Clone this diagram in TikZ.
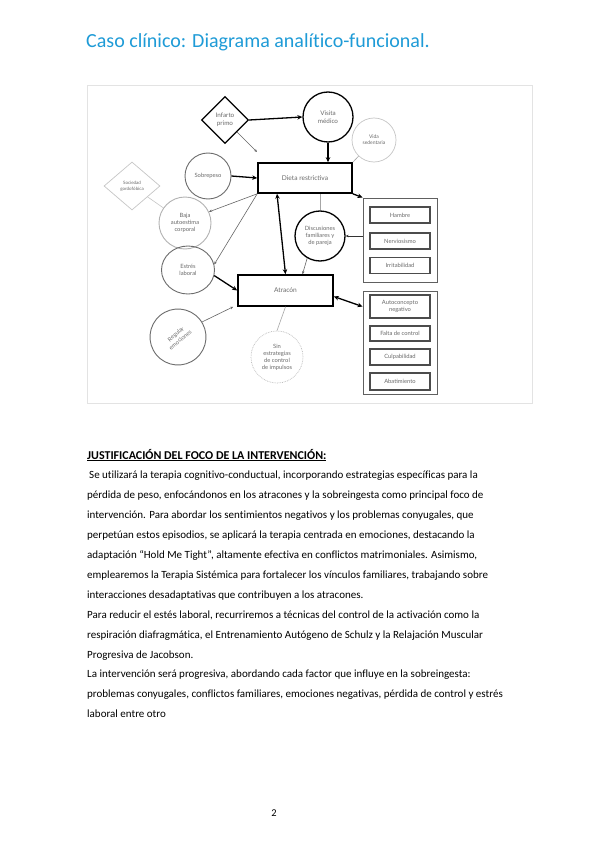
\documentclass[tikz,border=0pt]{standalone}
\usepackage{fontspec}
\setmainfont{Carlito}[Ligatures=NoCommon]
\newfontfamily\diagfont{Lato}
\usetikzlibrary{shapes.geometric,arrows.meta}
\definecolor{titlecyan}{HTML}{1E9BD7}
\definecolor{dtext}{HTML}{6A6A6A}
\begin{document}
\begin{tikzpicture}[x=1pt,y=-1pt,
  base/.style={inner sep=0pt,align=center,text=dtext,font=\diagfont\fontsize{5.8}{7}\selectfont},
  blackc/.style={base,circle,draw=black,line width=1.3pt,minimum size=50pt},
  grayc/.style={base,circle,draw=gray!85!black,line width=0.9pt,minimum size=50pt},
  lightc/.style={base,circle,draw=gray!45,line width=0.7pt,minimum size=44pt},
  mainbox/.style={base,rectangle,draw=black,line width=1.6pt,font=\diagfont\fontsize{6.6}{8}\selectfont},
  groupbox/.style={rectangle,draw=gray!75!black,line width=0.9pt},
  itembox/.style={base,rectangle,draw=gray!60!black,line width=1.1pt,minimum width=60pt},
  thickarr/.style={line width=1.3pt,-{Stealth[length=5pt,width=4.5pt]}},
  dblarr/.style={line width=1.3pt,{Stealth[length=5pt,width=4.5pt]}-{Stealth[length=5pt,width=4.5pt]}},
  thinarr/.style={draw=gray!80!black,line width=0.6pt,-{Stealth[length=3pt,width=2.6pt]}},
  thinline/.style={draw=gray!70,line width=0.6pt},
  bodyline/.style={anchor=base west,inner sep=0pt,font=\fontsize{11}{13}\selectfont}]
\useasboundingbox (0,0) rectangle (599,848);
\fill[white] (0,0) rectangle (599,848);

% title
\node[anchor=base west,inner sep=0pt,text=titlecyan,font=\fontsize{20}{23}\selectfont] (title) at (86,48) {Caso clínico: Diagrama analítico-funcional.};

% diagram frame
\draw[gray!22,line width=0.8pt] (87,85) rectangle (532,403);

% nodes
\node[base,diamond,draw=black,line width=1.3pt,minimum width=47pt,minimum height=47pt,font=\diagfont\fontsize{6.3}{7.6}\selectfont] (infarto) at (225,120) {Infarto\\primo};
\node[blackc,font=\diagfont\fontsize{6.3}{7.6}\selectfont] (visita) at (328,117) {Visita\\médico};
\node[lightc,font=\diagfont\fontsize{5}{6.2}\selectfont] (vida) at (374,140) {Vida\\sedentaria};
\node[mainbox,minimum width=94pt,minimum height=30pt] (dieta) at (305,178) {Dieta restrictiva};
\node[grayc,minimum size=46pt] (sobre) at (208,176) {Sobrepeso};
\node[base,diamond,draw=gray!45,line width=0.7pt,minimum width=56pt,minimum height=48pt,font=\diagfont\fontsize{4.5}{5.8}\selectfont] (socied) at (132,186) {Sociedad\\gordofóbica};
\node[grayc,draw=gray!60,minimum size=52pt] (baja) at (185,223) {Baja\\autoestima\\corporal};
\node[grayc,ellipse,minimum width=53pt,minimum height=48pt] (estres) at (188,270) {Estrés\\laboral};
\node[mainbox,minimum width=95pt,minimum height=31pt] (atracon) at (285.5,290.5) {Atracón};
\node[grayc,minimum size=56pt,rotate=40] (regular) at (178,337) {Regular\\emociones};
\node[lightc,densely dotted,minimum size=52pt,draw=gray!55] (sin) at (277,357) {Sin\\estrategias\\de control\\de impulsos};
\node[blackc] (disc) at (320,236) {Discusiones\\familiares y\\de pareja};

% group 1
\node[groupbox,minimum width=74pt,minimum height=84pt] (g1) at (400,240) {};
\node[itembox,minimum height=16pt] (hambre) at (400,215) {Hambre};
\node[itembox,minimum height=16pt] (nervio) at (400,241) {Nerviosismo};
\node[itembox,minimum height=15.5pt] (irrit) at (400,265.5) {Irritabilidad};

% group 2
\node[groupbox,minimum width=74pt,minimum height=103pt] (g2) at (400,342.5) {};
\node[itembox,minimum height=23pt] (auto) at (400,306.5) {Autoconcepto\\negativo};
\node[itembox,minimum height=15pt] (falta) at (400,333.5) {Falta de control};
\node[itembox,minimum height=16pt] (culpa) at (400,357) {Culpabilidad};
\node[itembox,minimum height=17pt] (abat) at (400,381.5) {Abatimiento};

\coordinate (infend) at (257,152);

% connectors
\draw[thickarr] (infarto.east) -- (visita.west);
\draw[thinarr] (infarto.south east) -- (infend);
\draw[thickarr] (visita.south) -- (visita.south |- dieta.north);
\draw[thinline] (vida) -- (dieta.north east);
\draw[thickarr] (sobre.east) -- (dieta.west);
\draw[thinline,draw=gray!45] (socied) -- (baja);
\draw[thinarr] (dieta.south west) -- (baja.25);
\draw[thinarr] (dieta.south west) -- (estres.12);
\draw[thickarr] (estres.-12) -- (atracon.west);
\draw[thinarr] (regular.-8) -- ([xshift=-4pt]atracon.south west);
\draw[thinline] (atracon.south) -- (sin.north);
\draw[dblarr] ([xshift=-28pt]dieta.south) -- (atracon.north);
\draw[thinline] (disc.north |- dieta.south) -- (disc.north);
\draw[thinarr] (disc.240) -- ([xshift=17pt]atracon.north);
\draw[thickarr] (dieta.south east) -- (g1.north west);
\draw[thinarr,draw=black!80] ([yshift=4pt]g1.west) -- (disc.east);
\draw[dblarr] ([yshift=-6pt]atracon.east) -- ([yshift=-16pt]g2.north west);

% text
\node[bodyline,font=\bfseries\fontsize{12}{14}\selectfont] (t0) at (87,459) {\underline{JUSTIFICACIÓN DEL FOCO DE LA INTERVENCIÓN:}};
\node[bodyline] (t1) at (89,478.9) {Se utilizará la terapia cognitivo-conductual, incorporando estrategias específicas para la};
\node[bodyline] (t2) at (87,498.8) {pérdida de peso, enfocándonos en los atracones y la sobreingesta como principal foco de};
\node[bodyline] (t3) at (87,518.7) {intervención. Para abordar los sentimientos negativos y los problemas conyugales, que};
\node[bodyline] (t4) at (87,538.6) {perpetúan estos episodios, se aplicará la terapia centrada en emociones, destacando la};
\node[bodyline] (t5) at (87,558.5) {adaptación “Hold Me Tight”, altamente efectiva en conflictos matrimoniales. Asimismo,};
\node[bodyline] (t6) at (87,578.4) {emplearemos la Terapia Sistémica para fortalecer los vínculos familiares, trabajando sobre};
\node[bodyline] (t7) at (87,598.3) {interacciones desadaptativas que contribuyen a los atracones.};
\node[bodyline] (t8) at (87,618.2) {Para reducir el estés laboral, recurriremos a técnicas del control de la activación como la};
\node[bodyline] (t9) at (87,638.1) {respiración diafragmática, el Entrenamiento Autógeno de Schulz y la Relajación Muscular};
\node[bodyline] (t10) at (87,658.0) {Progresiva de Jacobson.};
\node[bodyline] (t11) at (87,677.9) {La intervención será progresiva, abordando cada factor que influye en la sobreingesta:};
\node[bodyline] (t12) at (87,697.8) {problemas conyugales, conflictos familiares, emociones negativas, pérdida de control y estrés};
\node[bodyline] (t13) at (87,717.7) {laboral entre otro};

\node[anchor=base,inner sep=0pt,font=\fontsize{10.4}{12}\selectfont] (page) at (274,816) {2};
\end{tikzpicture}
\end{document}
